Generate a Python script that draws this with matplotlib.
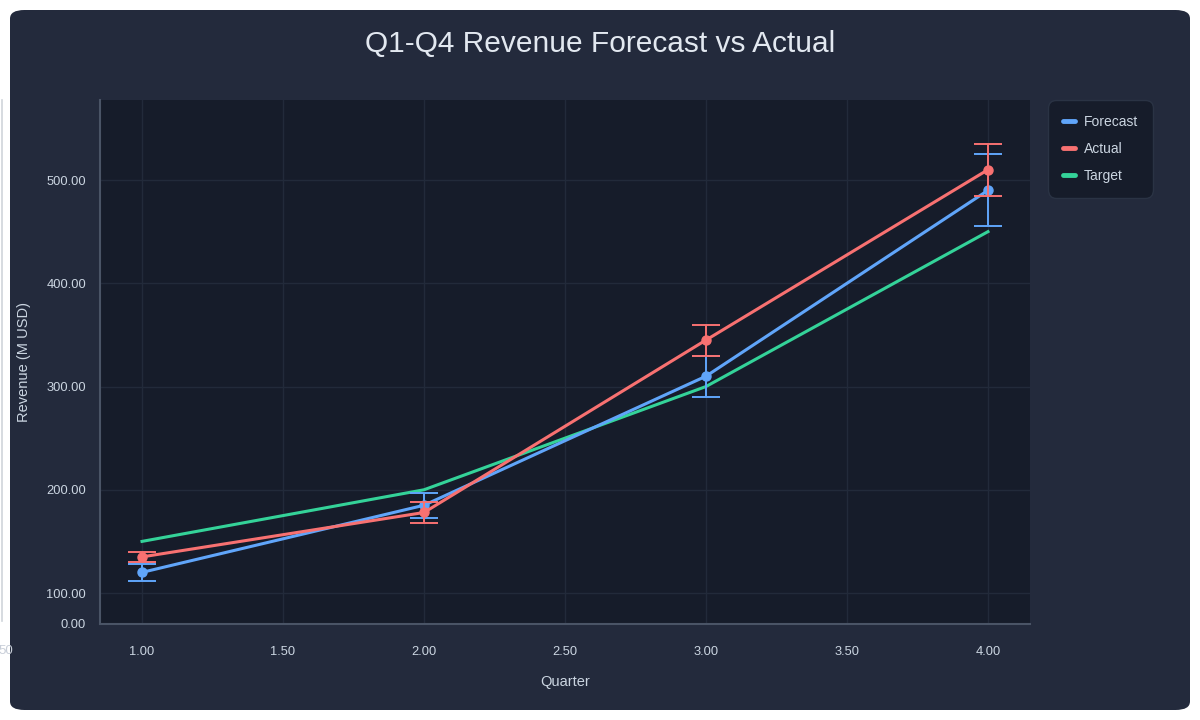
import numpy as np
import matplotlib
matplotlib.use('agg')
import matplotlib.pyplot as plt
from matplotlib.patches import FancyBboxPatch
from matplotlib.lines import Line2D
from matplotlib.ticker import FixedLocator, FixedFormatter

# data
quarters = [1, 2, 3, 4]
forecast = [120, 185, 310, 490]
forecast_err = [8, 12, 20, 35]
actual = [135, 178, 345, 510]
actual_err = [5, 10, 15, 25]
target = [150, 200, 300, 450]
x_ticks = [1.0, 1.5, 2.0, 2.5, 3.0, 3.5, 4.0]
y_ticks = [70, 100, 200, 300, 400, 500]
y_labels = ['0.00', '100.00', '200.00', '300.00', '400.00', '500.00']

blue = '#60a5fa'
red = '#f87171'
green = '#34d399'
panel_bg = '#232a3c'
plot_bg = '#161c2a'
text_col = '#cbd5e1'
grid_col = '#222a3a'

plt.rcParams['font.family'] = ['Liberation Sans', 'DejaVu Sans']

fig = plt.figure(figsize=(12, 7.2), dpi=100)
fig.patch.set_facecolor('white')

# rounded dark panel
panel = FancyBboxPatch((10 / 1200, 10 / 720), 1180 / 1200, 700 / 720,
                       boxstyle='round,pad=0,rounding_size=0.012',
                       transform=fig.transFigure, facecolor=panel_bg,
                       edgecolor='none', zorder=-10)
fig.patches.append(panel)

# stray bits at the left edge
fig.lines.append(Line2D([2 / 1200, 2 / 1200], [1 - 100 / 720, 1 - 621 / 720],
                        transform=fig.transFigure, color='#cfd4da', lw=1.2, zorder=-5))
fig.text(13 / 1200, 1 - 651 / 720, '50', ha='right', va='center',
         color='#c8ced8', fontsize=9.5)

ax = fig.add_axes([100 / 1200, 1 - 624 / 720, 930 / 1200, 524 / 720])
ax.set_zorder(2)
ax.set_facecolor(plot_bg)

ax.plot(quarters, target, color=green, lw=2.2, label='Target', zorder=3)
ax.errorbar(quarters, forecast, yerr=forecast_err, color=blue, lw=2.2,
            marker='o', ms=6.5, ecolor=blue, elinewidth=1.4, capsize=10,
            capthick=1.4, label='Forecast', zorder=4)
ax.errorbar(quarters, actual, yerr=actual_err, color=red, lw=2.2,
            marker='o', ms=6.5, ecolor=red, elinewidth=1.4, capsize=10,
            capthick=1.4, label='Actual', zorder=5)

ax.set_xlim(0.851, 4.149)
ax.set_ylim(70, 577.5)
ax.xaxis.set_major_locator(FixedLocator(x_ticks))
ax.xaxis.set_major_formatter(FixedFormatter(['%.2f' % v for v in x_ticks]))
ax.yaxis.set_major_locator(FixedLocator(y_ticks))
ax.yaxis.set_major_formatter(FixedFormatter(y_labels))
ax.grid(True, color=grid_col, lw=1)
ax.set_axisbelow(True)
ax.tick_params(colors=text_col, labelsize=9.3, length=0, pad=10)
ax.tick_params(axis='x', pad=16)
for side in ['top', 'right']:
    ax.spines[side].set_visible(False)
for side in ['left', 'bottom']:
    ax.spines[side].set_color('#4a5466')
    ax.spines[side].set_linewidth(1.5)

ax.set_xlabel('Quarter', color=text_col, fontsize=10.5)
ax.set_ylabel('Revenue (M USD)', color=text_col, fontsize=10.5)
ax.yaxis.set_label_coords(-69 / 930, 0.5)
ax.xaxis.set_label_coords(0.5, -51 / 524)

fig.text(0.5, 1 - 44 / 720, 'Q1-Q4 Revenue Forecast vs Actual', ha='center',
         va='center', color='#e2e8f0', fontsize=21.5)

handles = [Line2D([0], [0], color=c, lw=3.5, solid_capstyle='round') for c in (blue, red, green)]
leg = ax.legend(handles, ['Forecast', 'Actual', 'Target'], loc='upper left',
                bbox_to_anchor=(1048 / 1200, 1 - 100 / 720), bbox_transform=fig.transFigure,
                frameon=True, fontsize=10, labelcolor=text_col, handlelength=0.9,
                handletextpad=0.65, borderpad=1.05, labelspacing=0.95, borderaxespad=0)
frame = leg.get_frame()
frame.set_facecolor(plot_bg)
frame.set_edgecolor('#2a3344')
frame.set_alpha(1)
frame.set_boxstyle('round,pad=0,rounding_size=0.6')

fig.savefig('out.png', dpi=100)
